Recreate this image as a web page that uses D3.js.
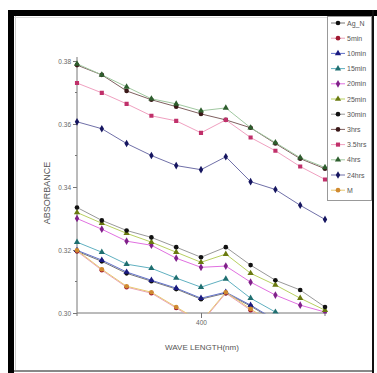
<!DOCTYPE html>
<html>
<head>
<meta charset="utf-8">
<script src="https://cdn.jsdelivr.net/npm/d3@7"></script>
<style>
  body { margin: 0; background: #fff; }
  svg { display: block; font-family: 'Liberation Sans', Arial, sans-serif; }
</style>
</head>
<body>
<svg id="chart" width="377" height="373"></svg>
<script>
// wavelength (nm) on x
const wavelength = [350, 360, 370, 380, 390, 400, 410, 420, 430, 440, 450];

// absorbance per series
const agN    = [0.3196, 0.3164, 0.3126, 0.3101, 0.3076, 0.3044, 0.3063, 0.3022, 0.2975, 0.2943, 0.2911];
const min5   = [0.3196, 0.3136, 0.3082, 0.3063, 0.3016, 0.2968, 0.3063, 0.3009, 0.2959, 0.2927, 0.2896];
const min10  = [0.3199, 0.3168, 0.3130, 0.3104, 0.3079, 0.3047, 0.3066, 0.3025, 0.2978, 0.2946, 0.2915];
const min15  = [0.3225, 0.3193, 0.3155, 0.3142, 0.3111, 0.3082, 0.3108, 0.3047, 0.3003, 0.2962, 0.2930];
const min20  = [0.3300, 0.3266, 0.3228, 0.3215, 0.3174, 0.3145, 0.3149, 0.3098, 0.3057, 0.3025, 0.3003];
const min25  = [0.3319, 0.3285, 0.3253, 0.3225, 0.3193, 0.3161, 0.3187, 0.3126, 0.3089, 0.3047, 0.3009];
const min30  = [0.3335, 0.3294, 0.3262, 0.3240, 0.3209, 0.3177, 0.3209, 0.3152, 0.3104, 0.3073, 0.3019];
const hr3    = [0.3787, 0.3756, 0.3705, 0.3677, 0.3655, 0.3632, 0.3613, 0.3588, 0.3538, 0.3490, 0.3458];
const hr3_5  = [0.3730, 0.3699, 0.3664, 0.3626, 0.3610, 0.3572, 0.3613, 0.3557, 0.3515, 0.3465, 0.3424];
const hr4    = [0.3791, 0.3756, 0.3718, 0.3680, 0.3664, 0.3642, 0.3651, 0.3588, 0.3541, 0.3493, 0.3462];
const hr24   = [0.3607, 0.3585, 0.3538, 0.3500, 0.3468, 0.3455, 0.3496, 0.3417, 0.3392, 0.3342, 0.3297];
const mSeries = [0.3199, 0.3139, 0.3085, 0.3066, 0.3019, 0.2972, 0.3066, 0.3013, 0.2962, 0.2930, 0.2899];

const seriesNames = ['Ag_N', '5min', '10min', '15min', '20min', '25min', '30min', '3hrs', '3.5hrs', '4hrs', '24hrs', 'M'];
const seriesValues = [agN, min5, min10, min15, min20, min25, min30, hr3, hr3_5, hr4, hr24, mSeries];

const yTicks = [0.30, 0.32, 0.34, 0.36, 0.38];
const yMinorTicks = [0.31, 0.33, 0.35, 0.37];
const xTicks = [400];
const xMinorTicks = [350, 450];

// marker / line colours, Origin-like
const markerColors = ['#111', '#a01830', '#1a1a80', '#1f6f70', '#80208a', '#6a7a10', '#111', '#3a1818', '#c0306a', '#2e5e2e', '#161660', '#d08a30'];
const lineColors   = ['#777', '#e8a0b8', '#6070c8', '#60b0c0', '#e070e0', '#b8d060', '#999', '#806060', '#f0a0c0', '#a0c8a0', '#7070a8', '#e8c870'];
const symbols = [d3.symbolCircle, d3.symbolCircle, d3.symbolTriangle, d3.symbolTriangle, d3.symbolDiamond,
                 d3.symbolTriangle, d3.symbolCircle, d3.symbolCircle, d3.symbolSquare, d3.symbolTriangle, d3.symbolDiamond, d3.symbolCircle];

const svg = d3.select('#chart');
const plot = { left: 77, right: 325, top: 61, bottom: 313 };

const x = d3.scaleLinear().domain([350, 450]).range([plot.left, plot.right]);
const y = d3.scaleLinear().domain([0.30, 0.38]).range([plot.bottom, plot.top]);

// page frame
svg.append('rect').attr('x', 0).attr('y', 0).attr('width', 377).attr('height', 373).attr('fill', '#fff');
svg.append('rect').attr('x', 8).attr('y', 10).attr('width', 369).attr('height', 6).attr('fill', '#000');
svg.append('rect').attr('x', 8).attr('y', 10).attr('width', 6).attr('height', 363).attr('fill', '#000');
svg.append('rect').attr('x', 372).attr('y', 10).attr('width', 2).attr('height', 363).attr('fill', '#111');
svg.append('rect').attr('x', 14).attr('y', 370).attr('width', 358).attr('height', 2).attr('fill', '#888');
svg.append('line').attr('x1', 15.5).attr('x2', 15.5).attr('y1', 16).attr('y2', 370)
    .attr('stroke', '#ccc').attr('stroke-width', 1);
svg.append('line').attr('x1', 14).attr('x2', 372).attr('y1', 17.5).attr('y2', 17.5)
    .attr('stroke', '#ddd').attr('stroke-width', 1);

svg.append('defs').append('clipPath').attr('id', 'plot-clip')
    .append('rect')
    .attr('x', plot.left - 8).attr('y', plot.top - 8)
    .attr('width', plot.right - plot.left + 16)
    .attr('height', plot.bottom - plot.top + 8.5);

// axes
const yAxis = d3.axisLeft(y).tickValues(yTicks).tickFormat(d3.format('.2f')).tickSize(4).tickPadding(2);
const yAxisContainer = svg.append('g')
    .attr('class', 'y-axis-container')
    .attr('transform', `translate(${plot.left}, 0)`)
    .call(yAxis);
yAxisContainer.selectAll('.minor')
    .data(yMinorTicks)
    .enter()
    .append('line')
    .attr('class', 'minor')
    .attr('x1', -2).attr('x2', 0)
    .attr('y1', (d) => y(d)).attr('y2', (d) => y(d));

const xAxis = d3.axisBottom(x).tickValues(xTicks).tickFormat(d3.format('d')).tickSize(5).tickPadding(2).tickSizeOuter(0);
const xAxisContainer = svg.append('g')
    .attr('class', 'x-axis-container')
    .attr('transform', `translate(0, ${plot.bottom})`)
    .call(xAxis);
xAxisContainer.selectAll('.minor')
    .data(xMinorTicks)
    .enter()
    .append('line')
    .attr('class', 'minor')
    .attr('x1', (d) => x(d)).attr('x2', (d) => x(d))
    .attr('y1', 0).attr('y2', 3);

svg.selectAll('.domain, .tick line, .minor').attr('stroke', '#777').attr('stroke-width', 1);
svg.selectAll('.tick text').attr('fill', '#666').attr('font-size', 6.5);
yAxisContainer.select('.domain').attr('d', `M0,${plot.bottom}V${plot.top - 4}`);
xAxisContainer.select('.domain').attr('d', `M${plot.left},0H${plot.right + 2}`);

// titles
svg.append('text')
    .attr('x', 202).attr('y', 350)
    .attr('text-anchor', 'middle')
    .attr('font-size', 8)
    .attr('fill', '#555')
    .text('WAVE LENGTH(nm)');
svg.append('text')
    .attr('transform', 'translate(50, 193) rotate(-90)')
    .attr('text-anchor', 'middle')
    .attr('font-size', 9)
    .attr('fill', '#555')
    .text('ABSORBANCE');

// data
const dataContainer = svg.append('g')
    .attr('class', 'data-container')
    .attr('clip-path', 'url(#plot-clip)');

const line = d3.line()
    .x((d) => x(d.w))
    .y((d) => y(d.v));

seriesValues.forEach((values, i) => {
    const points = values.map((v, j) => ({ w: wavelength[j], v: v }));
    const g = dataContainer.append('g').attr('class', 'series');
    g.append('path')
        .attr('d', line(points))
        .attr('fill', 'none')
        .attr('stroke', lineColors[i])
        .attr('stroke-width', 1);
    g.selectAll('path.marker')
        .data(points.filter((p) => p.v >= 0.2995))
        .enter()
        .append('path')
        .attr('class', 'marker')
        .attr('d', d3.symbol().type(symbols[i]).size(17))
        .attr('transform', (d) => `translate(${x(d.w)}, ${y(d.v)})`)
        .attr('fill', markerColors[i]);
});

// legend
const legend = svg.append('g').attr('class', 'legend');
legend.append('rect')
    .attr('x', 327.5).attr('y', 16.5)
    .attr('width', 44).attr('height', 184)
    .attr('fill', '#fff')
    .attr('stroke', '#999');

const legendItems = legend.selectAll('g.item')
    .data(seriesNames)
    .enter()
    .append('g')
    .attr('class', 'item')
    .attr('transform', (d, i) => `translate(0, ${23 + i * 15.2})`);
legendItems.append('line')
    .attr('x1', 331).attr('x2', 345)
    .attr('stroke', (d, i) => lineColors[i])
    .attr('stroke-width', 1);
legendItems.append('path')
    .attr('d', (d, i) => d3.symbol().type(symbols[i]).size(17)())
    .attr('transform', 'translate(338, 0)')
    .attr('fill', (d, i) => markerColors[i]);
legendItems.append('text')
    .attr('x', 347).attr('y', 2.5)
    .attr('font-size', 7)
    .attr('fill', '#555')
    .text((d) => d);
</script>
</body>
</html>
